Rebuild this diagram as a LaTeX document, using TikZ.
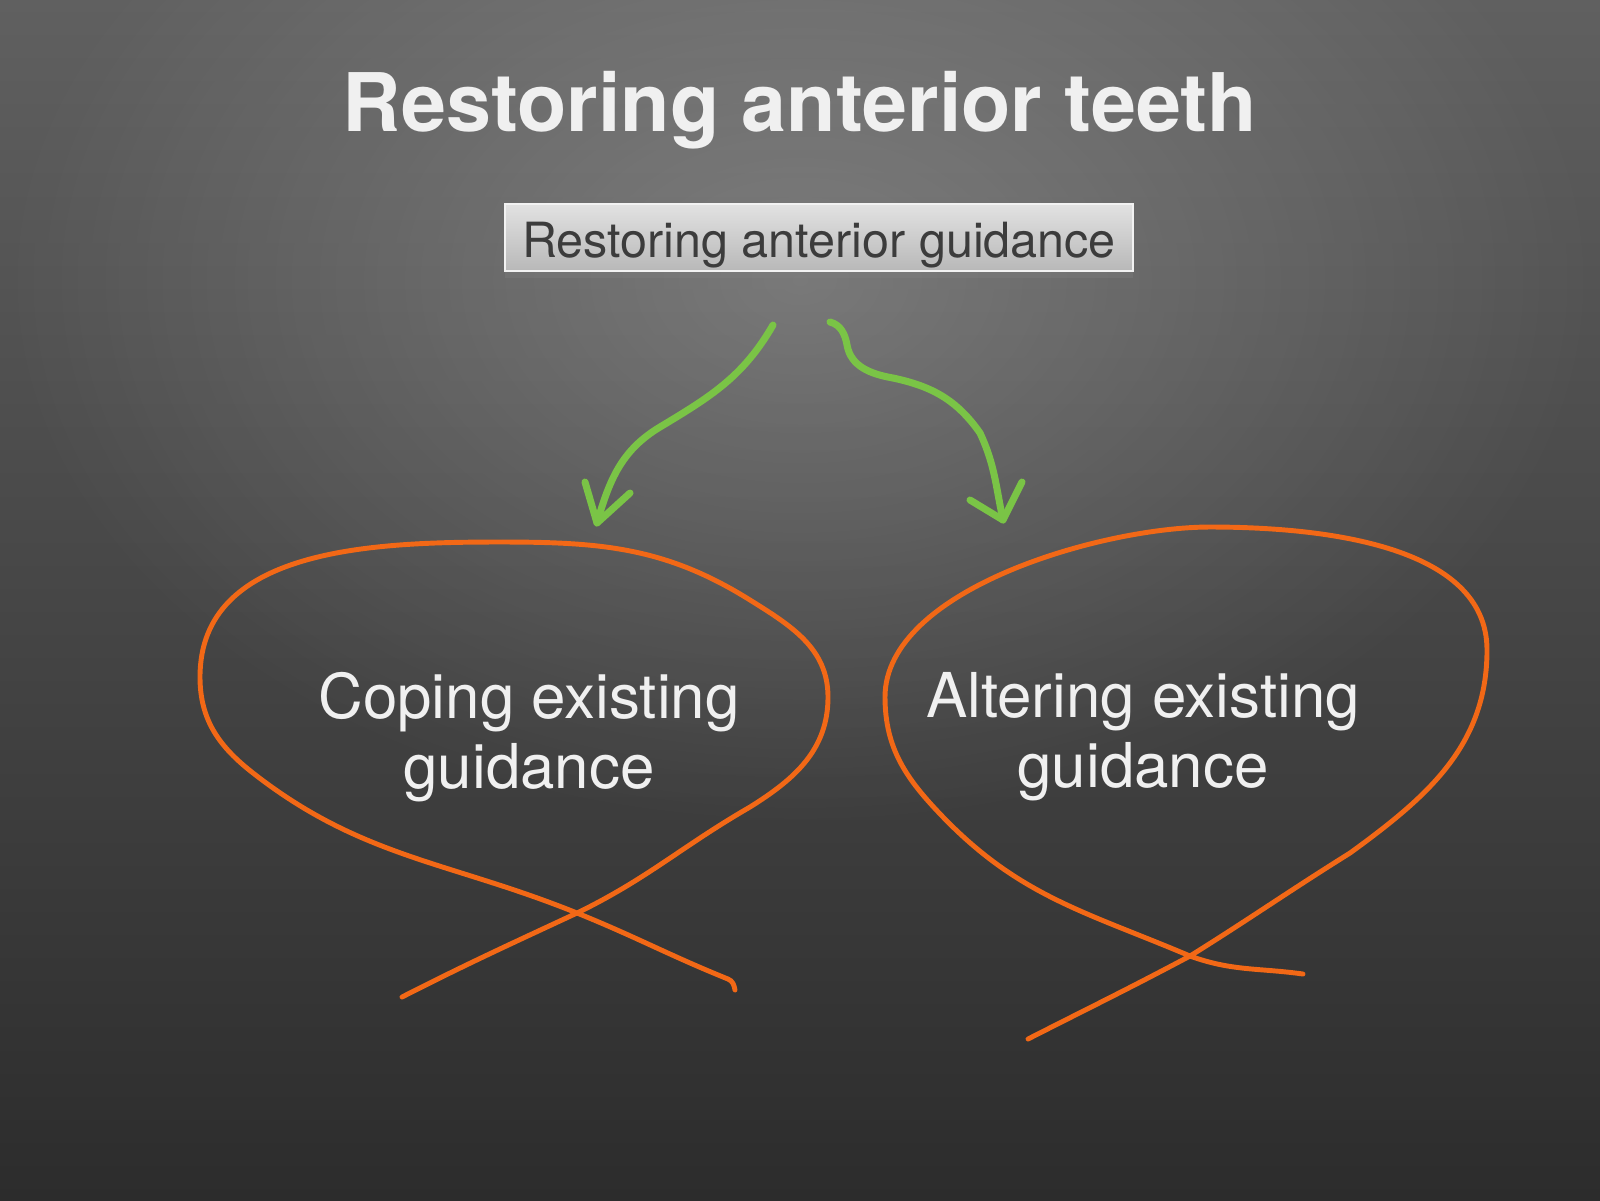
\documentclass[tikz,border=0pt]{standalone}
\usepackage{fontspec}
\setmainfont{TeX Gyre Heros}
\usetikzlibrary{shadows,fadings}
\definecolor{bgtop}{RGB}{96,96,96}
\definecolor{bgbot}{RGB}{44,44,44}
\definecolor{chalkorange}{RGB}{242,104,22}
\definecolor{chalkgreen}{RGB}{122,196,70}
\definecolor{boxtop}{RGB}{226,226,226}
\definecolor{boxbot}{RGB}{184,184,184}
\definecolor{boxtext}{RGB}{60,60,60}
\definecolor{slidetext}{RGB}{240,240,240}
\tikzfading[name=glow, inner color=transparent!0, outer color=transparent!100]
\begin{document}
\begin{tikzpicture}[x=1cm,y=1cm,
		title/.style={text=slidetext, font=\fontsize{23}{27}\selectfont\bfseries, inner sep=0pt},
		banner/.style={text=boxtext, font=\fontsize{13.8}{16}\selectfont, inner sep=0pt,
			minimum width=6.28cm, text height=0.53cm, text depth=0.14cm,
			top color=boxtop, bottom color=boxbot, draw=white!90!gray, line width=0.4pt,
			drop shadow={opacity=0.35, shadow xshift=0pt, shadow yshift=-2pt}},
		choice/.style={text=slidetext, font=\fontsize{17.6}{19.8}\selectfont, align=center, inner sep=0pt},
		loop/.style={draw=chalkorange, line width=1.4pt, line cap=round, line join=round},
		pointer/.style={draw=chalkgreen, line width=2pt, line cap=round, line join=round}]
		\useasboundingbox (0,0) rectangle (16,-12);
		% background
		\shade [top color=bgtop, bottom color=bgbot] (0,0) rectangle (16,-12);
		\fill [white, opacity=0.22, path fading=glow] (8,-2.8) ellipse (8 and 5.5);
		% texts
		\node [title, anchor=base] (head) at (8.00,-1.31) {Restoring anterior teeth};
		\node [banner, anchor=base] (guid) at (8.19,-2.57) {Restoring anterior guidance};
		\node [choice, anchor=base] (cope) at (5.29,-7.88) {Coping existing\\guidance};
		\node [choice, anchor=base] (alter) at (11.43,-7.87) {Altering existing\\guidance};
		% green arrows
		\coordinate (la) at (7.73,-3.25);
		\coordinate (lt) at (5.97,-5.23);
		\coordinate (ra) at (8.30,-3.22);
		\coordinate (rt) at (10.03,-5.20);
		\draw [pointer] (la) to[out=240,in=31] (6.60,-4.27) to[out=211,in=74] (lt);
		\draw [pointer] (5.85,-4.82) -- (lt) -- (6.30,-4.93);
		\draw [pointer] (ra) to[out=-15,in=100] (8.47,-3.45) to[out=-80,in=170] (8.93,-3.78)
			to[out=-12,in=125] (9.80,-4.33) to[out=-65,in=102] (rt);
		\draw [pointer] (9.70,-5.00) -- (rt) -- (10.22,-4.82);
		% orange loops
		\draw [loop] (4.02,-9.97) to[out=27,in=205] (5.77,-9.13) to[out=26,in=210] (7.50,-8.07)
			to[out=32,in=270] (8.28,-6.97) to[out=90,in=-32] (7.50,-6.00)
			to[out=148,in=0] (5.00,-5.42) to[out=180,in=90] (2.00,-6.77)
			to[out=270,in=142] (2.53,-7.73) to[out=-38,in=158] (5.77,-9.13)
			to[out=-22,in=158] (7.28,-9.79) to[out=-22,in=100] (7.35,-9.90);
		\draw [loop] (10.28,-10.39) to[out=27,in=208] (11.90,-9.56) to[out=32,in=212] (13.50,-8.53)
			to[out=36,in=270] (14.87,-6.50) to[out=90,in=0,looseness=0.9] (12.10,-5.27)
			to[out=180,in=90,looseness=0.75] (8.85,-6.97) to[out=270,in=134] (9.43,-8.17)
			to[out=-46,in=157] (11.90,-9.56) to[out=-20,in=172] (13.03,-9.74);
\end{tikzpicture}
\end{document}
